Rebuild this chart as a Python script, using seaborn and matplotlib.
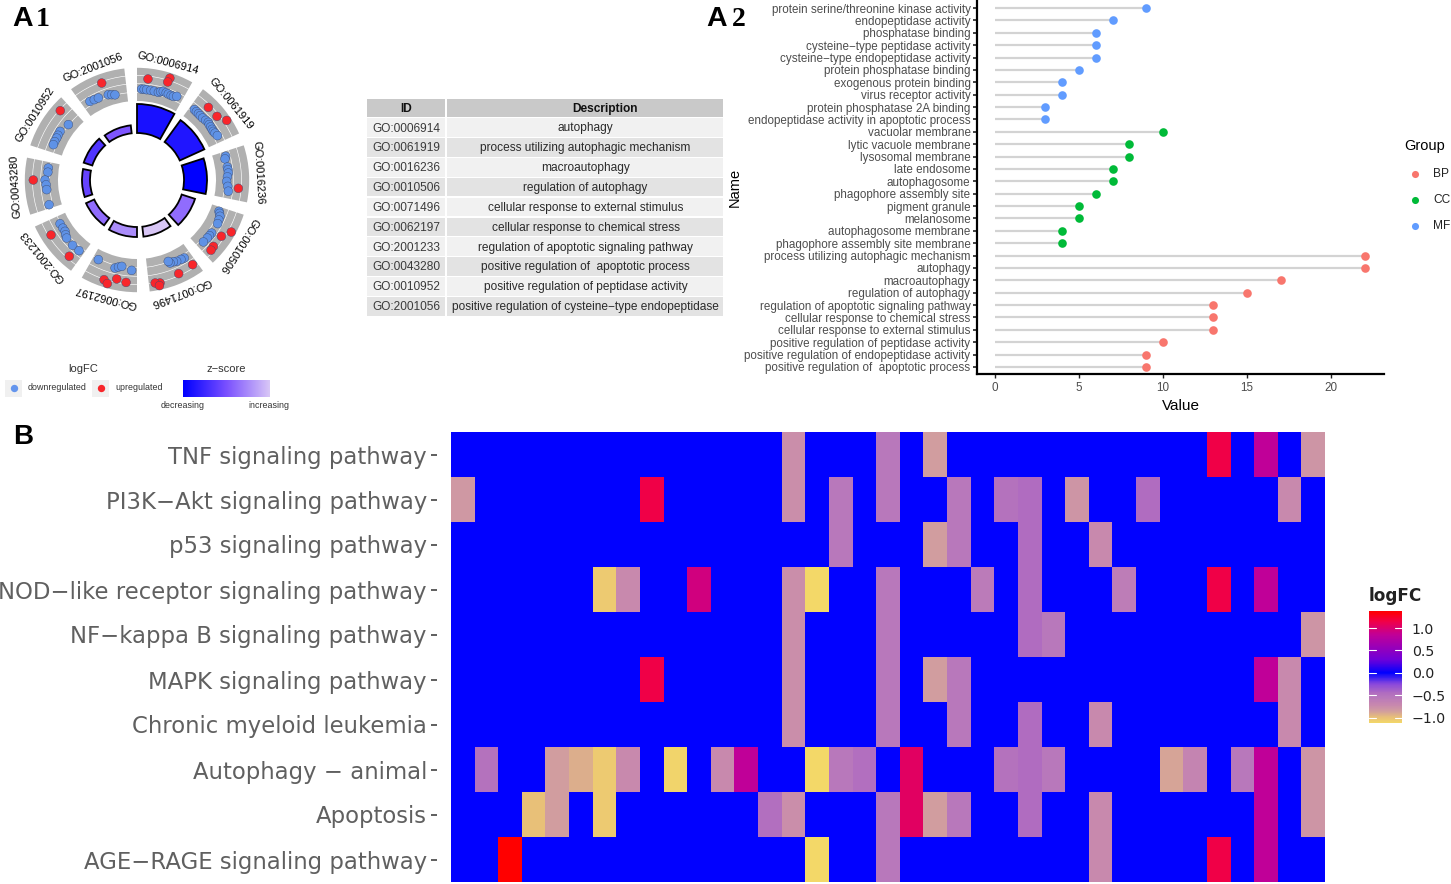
import numpy as np
import pandas as pd
import matplotlib
matplotlib.use("Agg")
import matplotlib.pyplot as plt
from matplotlib.colors import LinearSegmentedColormap
from matplotlib.patches import Rectangle
import seaborn as sns

W, H = 1451, 884
sns.set_theme(style="white")
plt.rcParams["font.family"] = ["Liberation Sans", "DejaVu Sans"]

# ---------- A1 circle data ----------
GO_IDS = ["GO:0006914", "GO:0061919", "GO:0016236", "GO:0010506", "GO:0071496",
          "GO:0062197", "GO:2001233", "GO:0043280", "GO:0010952", "GO:2001056"]
GO_DESC = ["autophagy", "process utilizing autophagic mechanism", "macroautophagy",
           "regulation of autophagy", "cellular response to external stimulus",
           "cellular response to chemical stress", "regulation of apoptotic signaling pathway",
           "positive regulation of  apoptotic process", "positive regulation of peptidase activity",
           "positive regulation of cysteine\u2212type endopeptidase"]
GO_BAR_HEIGHT = [29, 27, 23, 14, 10, 10, 9, 8, 9, 8]
GO_ZSCORE = [0.10, 0.13, 0.0, 0.62, 1.0, 0.75, 0.62, 0.42, 0.33, 0.52]

DOWN_ANGLE = [2.9, 4.5, 6.1, 8.7, 11, 13.7, 15, 16.5, 18.5, 20, 22, 23.5, 25.4,
              39.2, 41, 42.8, 44.5, 46.6, 49, 51, 52.5, 54.2, 56, 57.5, 59, 61.1,
              75, 76.5, 81.8, 83.5, 85.6, 88, 90.9, 94, 97,
              110.9, 112, 113.6, 116, 118.4, 125.4, 127.5, 129.5, 133,
              148.8, 151, 154, 156, 158.3, 159,
              205.9, 194, 192, 190, 183.4,
              240.4, 237, 234.5, 232.5, 230.5, 224.6, 219.4,
              277.7, 275, 270, 267, 263.9, 254.3,
              308.9, 302.3, 299.5, 297.6, 295, 292.9,
              329.1, 332, 334.8, 341.4, 343.5, 345.5]
DOWN_RADIUS = [91, 91, 90.8, 90.7, 90.5, 90.2, 91.5, 92.5, 92, 91.5, 91.2, 91.2, 92.6,
               90.8, 90.5, 90.4, 90.3, 90.3, 91, 91.7, 91, 90.8, 90.6, 90.5, 91, 91.8,
               91.8, 90.5, 91.3, 91.5, 91.6, 90.5, 89.7, 91, 92,
               87.8, 89, 90.6, 91, 91.7, 91.6, 91.4, 91.2, 90.8,
               91.2, 90.8, 90.5, 89.5, 89.3, 87.2,
               88.5, 90.7, 89, 87.7, 90.5,
               88.5, 88.4, 88.4, 90, 91.2, 91.7, 91.4,
               89.5, 89.5, 92, 91, 90.8, 91.3,
               88.2, 91, 90.8, 90.6, 90.8, 90.8,
               91.6, 91, 90.7, 90, 89, 88]
UP_ANGLE = [6.2, 17.9, 17.4, 44.5, 51.5, 56.4, 94.7,
            118.9, 123.7, 131, 133.5, 146.7, 156, 167.4, 170, 168,
            191.6, 186.1, 198.3, 196, 237.4, 221.6, 270, 312.1, 340]
UP_RADIUS = [101.6, 107, 102.7, 101.8, 102.2, 107.7, 101.7,
             107.7, 101.4, 101.2, 102, 101.3, 102.5, 105.5, 104.6, 108,
             101, 103, 105, 107.8, 102, 102, 103.7, 103.4, 103.2]

# ---------- A2 lollipop data ----------
TERM_NAMES = ["protein serine/threonine kinase activity", "endopeptidase activity", "phosphatase binding",
              "cysteine\u2212type peptidase activity", "cysteine\u2212type endopeptidase activity",
              "protein phosphatase binding", "exogenous protein binding", "virus receptor activity",
              "protein phosphatase 2A binding", "endopeptidase activity in apoptotic process",
              "vacuolar membrane", "lytic vacuole membrane", "lysosomal membrane", "late endosome",
              "autophagosome", "phagophore assembly site", "pigment granule", "melanosome",
              "autophagosome membrane", "phagophore assembly site membrane",
              "process utilizing autophagic mechanism", "autophagy", "macroautophagy",
              "regulation of autophagy", "regulation of apoptotic signaling pathway",
              "cellular response to chemical stress", "cellular response to external stimulus",
              "positive regulation of peptidase activity", "positive regulation of endopeptidase activity",
              "positive regulation of  apoptotic process"]
TERM_VALUES = [9, 7, 6, 6, 6, 5, 4, 4, 3, 3,
               10, 8, 8, 7, 7, 6, 5, 5, 4, 4,
               22, 22, 17, 15, 13, 13, 13, 10, 9, 9]
TERM_GROUPS = ["MF"] * 10 + ["CC"] * 10 + ["BP"] * 10
GROUP_COLORS = {"BP": "#F8766D", "CC": "#00BA38", "MF": "#619CFF"}

# ---------- B heatmap data ----------
PATHWAYS = ["TNF signaling pathway", "PI3K\u2212Akt signaling pathway", "p53 signaling pathway",
            "NOD\u2212like receptor signaling pathway", "NF\u2212kappa B signaling pathway",
            "MAPK signaling pathway", "Chronic myeloid leukemia", "Autophagy \u2212 animal",
            "Apoptosis", "AGE\u2212RAGE signaling pathway"]
GENE_LOGFC = [-0.82, -0.50, 1.38, -1.00, -0.85, -0.92, -1.05, -0.72, 1.15, -1.10,
              0.95, -0.72, 0.85, -0.47, -0.75, -1.12, -0.55, -0.47, -0.55, 1.05,
              -0.85, -0.55, -0.58, -0.50, -0.45, -0.55, -0.80, -0.72, -0.60, -0.45,
              -0.88, -0.68, 1.15, -0.55, 0.85, -0.72, -0.80]
PATHWAY_GENES = [
    [14, 18, 20, 32, 34, 36],
    [0, 8, 14, 16, 18, 21, 23, 24, 26, 29, 35],
    [16, 20, 21, 24, 27],
    [6, 7, 10, 14, 15, 18, 22, 24, 28, 32, 34],
    [14, 18, 24, 25, 36],
    [8, 14, 18, 20, 21, 34, 35],
    [14, 18, 21, 24, 27, 35],
    [1, 4, 5, 6, 7, 9, 11, 12, 15, 16, 17, 19, 23, 24, 25, 30, 31, 33, 34, 36],
    [3, 4, 6, 13, 14, 18, 19, 20, 21, 24, 27, 34, 36],
    [2, 15, 18, 27, 32, 34],
]
CBAR_TICKS = [-1.0, -0.5, 0.0, 0.5, 1.0]


def axpx(l, t, r, b, **kw):
    return fig.add_axes([l / W, 1 - b / H, (r - l) / W, (b - t) / H], **kw)


fig = plt.figure(figsize=(W / 100, H / 100), dpi=100, facecolor="white")

# Overlay in pixel units for the table, legends and panel letters
ov = axpx(0, 0, W, H)
ov.set_xlim(0, W)
ov.set_ylim(H, 0)
ov.axis("off")
ov.set_zorder(5)

# ---------- A1 ----------
pol = axpx(7, 50, 267, 310, projection="polar")
pol.set_theta_zero_location("N")
pol.set_theta_direction(-1)
step = 36.0
span = 29.5
z_cmap = LinearSegmentedColormap.from_list("z", ["#0000FF", "#7A50FF", "#D8C6F6"])
for i, go in enumerate(GO_IDS):
    start = np.deg2rad(i * step)
    w = np.deg2rad(span)
    for bottom, height in [(79, 8.4), (88, 8), (96.6, 7.6), (104.8, 7.4)]:
        pol.bar(start, height, width=w, bottom=bottom, align="edge", color="#B0B0B0", linewidth=0, zorder=1)
    pol.bar(start, GO_BAR_HEIGHT[i], width=w, bottom=47, align="edge",
            color=z_cmap(GO_ZSCORE[i]), edgecolor="black", linewidth=1.3, zorder=2)
    mid = i * step + span / 2
    pol.text(np.deg2rad(mid), 121, go, rotation=-mid, rotation_mode="anchor", ha="center", va="center",
             fontsize=8, color="black", clip_on=False)
pts = pd.DataFrame({
    "theta": np.deg2rad(DOWN_ANGLE + UP_ANGLE),
    "r": DOWN_RADIUS + UP_RADIUS,
    "dir": ["down"] * len(DOWN_ANGLE) + ["up"] * len(UP_ANGLE),
})
sns.scatterplot(data=pts, x="theta", y="r", hue="dir", palette={"down": "#5F92E6", "up": "#F8262B"},
                s=40, edgecolor="#3a4a70", linewidth=0.3, legend=False, ax=pol, zorder=3, clip_on=False)
pol.set_xlabel("")
pol.set_ylabel("")
pol.set_ylim(0, 130)
pol.axis("off")

# A1 legend
TXT = "#333333"
ov.text(83, 369, "logFC", fontsize=8, ha="center", va="center", color=TXT)
ov.text(226, 369, "z\u2212score", fontsize=8, ha="center", va="center", color=TXT)
for x0, col, lab in [(5, "#6495ED", "downregulated"), (92, "#F8262B", "upregulated")]:
    ov.add_patch(Rectangle((x0, 380), 17, 17, color="#F0F0F0", lw=0))
    ov.scatter([x0 + 8.5], [388], s=28, color=col, linewidths=0)
    ov.text(x0 + 23, 388, lab, fontsize=6.4, va="center", ha="left", color=TXT)
zb = axpx(183, 380, 269, 397)
zb.imshow(np.linspace(0, 1, 200)[None, :], cmap=z_cmap, aspect="auto")
zb.axis("off")
ov.text(183, 406, "decreasing", fontsize=6.4, ha="center", va="center", color=TXT)
ov.text(269, 406, "increasing", fontsize=6.4, ha="center", va="center", color=TXT)

# ---------- Table ----------
ov.add_patch(Rectangle((367, 99), 78, 18, color="#C9C9C9", lw=0))
ov.add_patch(Rectangle((447, 99), 276, 18, color="#C9C9C9", lw=0))
ov.text(406, 108.9, "ID", fontsize=8.55, fontweight="bold", ha="center", va="center", color="#111111")
ov.text(605, 108.9, "Description", fontsize=8.55, fontweight="bold", ha="center", va="center", color="#111111")
for i, (go, desc) in enumerate(zip(GO_IDS, GO_DESC)):
    y0 = 118.3 + i * 19.85
    c = "#F1F1F1" if i % 2 == 0 else "#E3E3E3"
    ov.add_patch(Rectangle((367, y0), 78, 18.6, color=c, lw=0))
    ov.add_patch(Rectangle((447, y0), 276, 18.6, color=c, lw=0))
    ov.text(372, y0 + 10.2, go, fontsize=8.55, ha="left", va="center", color="#3a3a3a")
    ov.text(585.5, y0 + 10.2, desc, fontsize=8.55, ha="center", va="center", color="#2a2a2a")

# ---------- A2 ----------
lol = axpx(977, 1, 1384, 374)
df = pd.DataFrame({"Name": TERM_NAMES, "Value": TERM_VALUES, "Group": TERM_GROUPS})
sns.stripplot(data=df, x="Value", y="Name", hue="Group", order=TERM_NAMES, palette=GROUP_COLORS,
              jitter=False, size=6.2, linewidth=0, legend=False, ax=lol, zorder=3)
lol.hlines(range(len(df)), 0, df["Value"], color="#D3D3D3", lw=1.6, zorder=1)
lol.set_xlim(-1.07, 23.15)
lol.set_ylim(29.57, -0.57)
lol.set_xticks([0, 5, 10, 15, 20])
for s in ["top", "right"]:
    lol.spines[s].set_visible(False)
for s in ["left", "bottom"]:
    lol.spines[s].set_visible(True)
    lol.spines[s].set_color("black")
    lol.spines[s].set_linewidth(1.6)
lol.tick_params(axis="y", length=3, width=1.2, color="#222222", labelsize=8.4, labelcolor="#4D4D4D", pad=1.6,
                left=True)
lol.tick_params(axis="x", length=3, width=1.0, color="#222222", labelsize=8.4, labelcolor="#4D4D4D", pad=3,
                bottom=True)
lol.set_xlabel("Value", fontsize=11, color="black", labelpad=3)
lol.set_ylabel("")
ov.text(735, 187, "Name", rotation=90, fontsize=10.5, ha="center", va="center", color="black")
ov.text(1404, 146, "Group", fontsize=10.5, ha="left", va="center", color="black")
for y, g in zip([174, 200, 226], ["BP", "CC", "MF"]):
    ov.scatter([1415], [y], s=26, color=GROUP_COLORS[g], linewidths=0)
    ov.text(1433, y, g, fontsize=8.6, ha="left", va="center", color="#222222")

# ---------- B ----------
matrix = np.zeros((len(PATHWAYS), len(GENE_LOGFC)))
for r, genes in enumerate(PATHWAY_GENES):
    for g in genes:
        matrix[r, g] = GENE_LOGFC[g]
vmin, vmax = -1.12, 1.38
stops = [(-1.12, "#F3D868"), (-1.0, "#E8C078"), (-0.85, "#D09CA0"), (-0.72, "#C888AE"),
         (-0.55, "#B878BB"), (-0.45, "#B06CC0"), (-0.25, "#8A48DC"), (0.0, "#0000FF"),
         (0.3, "#7000D8"), (0.85, "#C00098"), (1.15, "#F00048"), (1.38, "#FF0000")]
hm_cmap = LinearSegmentedColormap.from_list("hm", [((v - vmin) / (vmax - vmin), c) for v, c in stops])
hm = axpx(451, 432, 1325, 882)
cax = axpx(1369, 611, 1402, 723)
sns.heatmap(pd.DataFrame(matrix, index=PATHWAYS), cmap=hm_cmap, vmin=vmin, vmax=vmax, ax=hm, cbar_ax=cax,
            xticklabels=False, yticklabels=True, cbar_kws={"ticks": CBAR_TICKS})
hm.set_xlabel("")
hm.set_ylabel("")
hm.spines["left"].set_position(("outward", 10))
hm.tick_params(axis="y", length=4.3, width=1.1, color="#333333", left=True, labelsize=16.35,
               labelcolor="#606060", rotation=0, pad=3)
for t in hm.get_yticklabels():
    t.set_family("DejaVu Sans")
cax.tick_params(length=0, labelsize=10.2, labelcolor="#222222", pad=7)
cax.set_yticklabels(["\u22121.0", "\u22120.5", "0.0", "0.5", "1.0"], family="DejaVu Sans")
for v in CBAR_TICKS:
    cax.plot([0, 0.2], [v, v], color="white", lw=0.8, transform=cax.get_yaxis_transform())
    cax.plot([0.8, 1], [v, v], color="white", lw=0.8, transform=cax.get_yaxis_transform())
ov.text(1369, 596, "logFC", fontsize=12.2, family="DejaVu Sans", fontweight="bold", ha="left", va="center",
        color="#222222")

# ---------- Panel letters ----------
ov.text(12, 19, "A", fontsize=20.5, fontweight="bold", family="Liberation Sans", ha="left", va="center", color="black")
ov.text(36, 19, "1", fontsize=20, fontweight="bold", family="Liberation Serif", ha="left", va="center", color="black")
ov.text(706, 19, "A", fontsize=20.5, fontweight="bold", family="Liberation Sans", ha="left", va="center", color="black")
ov.text(732, 19, "2", fontsize=20, fontweight="bold", family="Liberation Serif", ha="left", va="center", color="black")
ov.text(13, 437, "B", fontsize=20, fontweight="bold", family="Liberation Sans", ha="left", va="center", color="black")

fig.savefig("out.png", dpi=100, facecolor="white")
